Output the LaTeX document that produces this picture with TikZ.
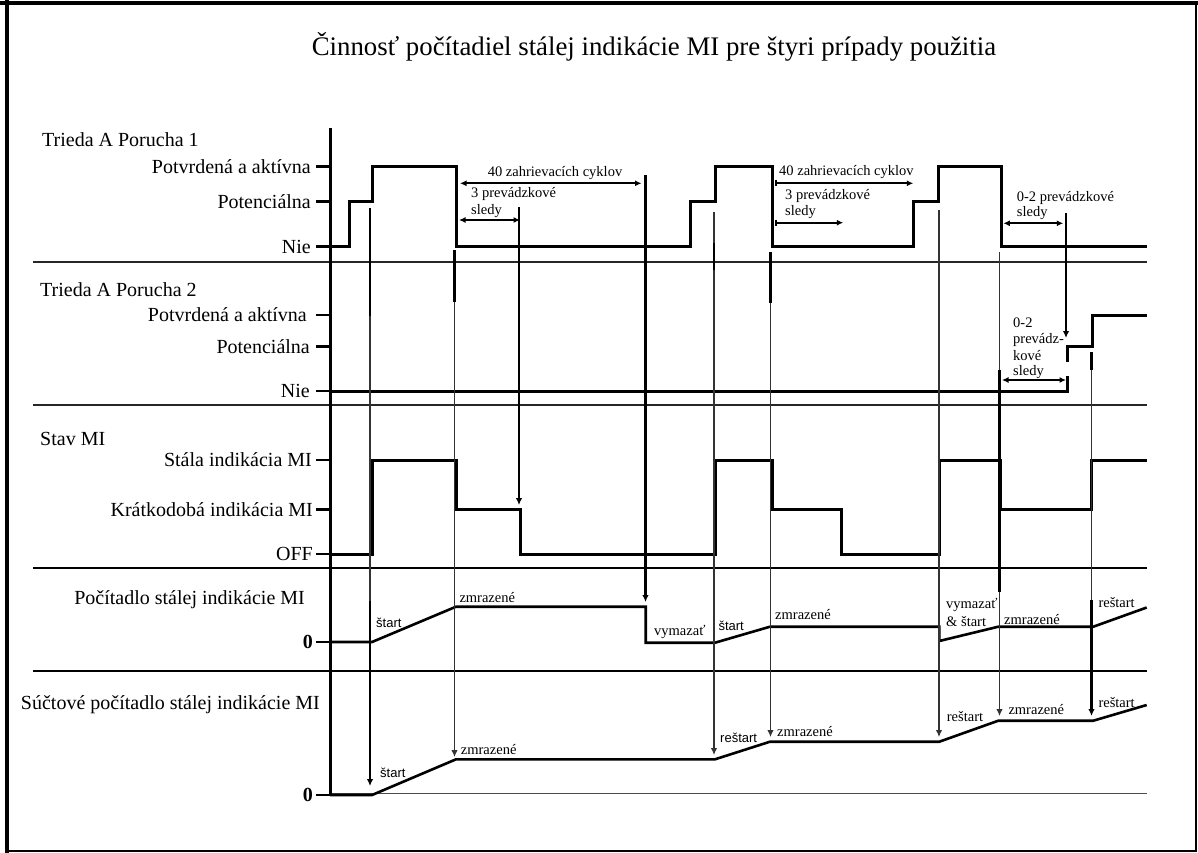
\documentclass[tikz,border=0pt]{standalone}
\usepackage{fontspec}
\setmainfont{Liberation Serif}
\newfontfamily\labsans{Liberation Sans}
\usetikzlibrary{arrows.meta}
\begin{document}
\begin{tikzpicture}[x=1pt,y=-1pt,
  sig/.style={line width=3pt, line join=miter},
  ev/.style={line width=1.2pt, draw=black!80},
  evk/.style={line width=2.5pt},
  septhin/.style={line width=1.6pt, draw=black!85},
  septhick/.style={line width=2.8pt},
  tickmark/.style={line width=2.6pt},
  lev/.style={anchor=east, font=\fontsize{20}{22}\selectfont, inner sep=0pt},
  grp/.style={anchor=west, font=\fontsize{20}{22}\selectfont, inner sep=0pt},
  sm/.style={anchor=west, font=\fontsize{14.5}{15}\selectfont, inner sep=0pt},
  smsans/.style={anchor=west, font=\labsans\fontsize{13}{15}\selectfont, inner sep=0pt},
  tip/.style={-{Latex[length=7pt,width=6.5pt]}},
  dim/.style={line width=2pt, {Latex[length=6.5pt,width=6pt]}-{Latex[length=6.5pt,width=6pt]}},
  dimr/.style={line width=2pt, {Bar[width=6pt]}-{Latex[length=6.5pt,width=6pt]}},
]
\useasboundingbox (0,0) rectangle (1198,853);
\fill[white] (0,0) rectangle (1198,853);
% border
\draw[line width=1.8pt] (7,3) rectangle (1196,851);
\draw[line width=4pt] (7,0) -- (7,853);
\draw[line width=4pt] (0,3) -- (1198,3);

% title
\node[font=\fontsize{26.8}{28}\selectfont, inner sep=0pt] (title) at (654,47) {Činnosť počítadiel stálej indikácie MI pre štyri prípady použitia};

% group labels
\node[grp] (g1) at (42,140) {Trieda A Porucha 1};
\node[grp] (g2) at (40,290) {Trieda A Porucha 2};
\node[grp] (g3) at (40,439) {Stav MI};
\node[lev] (g4) at (305,600) {Počítadlo stálej indikácie MI};
\node[lev] (g5) at (320,705) {Súčtové počítadlo stálej indikácie MI};

% level labels
\node[lev] (l1a) at (311,166.7) {Potvrdená a aktívna};
\node[lev] (l1b) at (311,201.7) {Potenciálna};
\node[lev] (l1c) at (311,246.7) {Nie};
\node[lev] (l2a) at (307,315) {Potvrdená a aktívna};
\node[lev] (l2b) at (310,346.7) {Potenciálna};
\node[lev] (l2c) at (310,391) {Nie};
\node[lev] (l3a) at (312,460) {Stála indikácia MI};
\node[lev] (l3b) at (313,509.3) {Krátkodobá indikácia MI};
\node[lev] (l3c) at (313,554) {OFF};
\node[lev, font=\fontsize{20}{22}\selectfont\bfseries] (l4) at (313,642) {0};
\node[lev, font=\fontsize{20}{22}\selectfont\bfseries] (l5) at (313,795) {0};

% ticks
\foreach \yy in {166.7,201.7,246.7,315,346.7,391,460,509.3,554,642,795}
  \draw[tickmark] (316,\yy) -- (330,\yy);

% separators
\draw[septhin] (33,262) -- (1146.7,262);
\draw[septhin] (33,405) -- (1146.7,405);
\draw[septhick] (33,568) -- (1146.7,568);
\draw[septhick] (33,671) -- (1146.7,671);
\draw[line width=1.6pt, draw=black!70] (330,793.5) -- (1146.7,793.5);

% axis
\draw[line width=3pt] (330,128) -- (330,796);

% signal Trieda A Porucha 1
\draw[sig] (330,246.7) -- (349,246.7) -- (349,201.7) -- (372.5,201.7) -- (372.5,166.7) -- (456.7,166.7) -- (456.7,246.7) -- (690,246.7) -- (690,201.7) -- (715.7,201.7) -- (715.7,166.7) -- (772.3,166.7) -- (772.3,246.7) -- (913.3,246.7) -- (913.3,201.7) -- (938.3,201.7) -- (938.3,166.7) -- (1001.7,166.7) -- (1001.7,246.7) -- (1146.7,246.7);

% signal Trieda A Porucha 2
\draw[sig] (330,391) -- (1067,391) -- (1067,376);
\draw[sig] (1067,362) -- (1067,346.7) -- (1092.3,346.7) -- (1092.3,315) -- (1146.7,315);

% signal Stav MI
\draw[sig] (330,554) -- (372,554) -- (372,460) -- (456.7,460) -- (456.7,509.3) -- (520,509.3) -- (520,554) -- (715,554) -- (715,460) -- (772.7,460) -- (772.7,509.3) -- (841.7,509.3) -- (841.7,554) -- (939.3,554) -- (939.3,460) -- (1000,460) -- (1000,509.3) -- (1091.7,509.3) -- (1091.7,460) -- (1146.7,460);

% signal Pocitadlo
\draw[sig, line width=2.6pt] (330,642) -- (372,642) -- (456,606.7) -- (645.7,606.7) -- (645.7,642.7) -- (715,642.7) -- (770,626.7) -- (939.3,626.7) -- (939.3,641) -- (998.3,626.7) -- (1093.3,626.7) -- (1146.7,607.5);

% signal Suctove
\draw[sig, line width=2.6pt] (330,795) -- (372,795) -- (456,759.3) -- (715,759.3) -- (770,741.7) -- (939.3,741.7) -- (998.3,720.7) -- (1093.3,720.7) -- (1146.7,705);

% event lines
\draw[evk] (370,208) -- (370,316);
\draw[ev] (370,316) -- (370,601);
\draw[evk,tip] (370,601) -- (370,786);

\draw[evk] (454.5,250) -- (454.5,302);
\draw[ev,tip] (454.5,302) -- (454.5,757);

\draw[evk,tip] (519,207) -- (519,505);

\draw[evk,tip] (645.5,175) -- (645.5,602);

\draw[ev] (714,212) -- (714,243);
\draw[evk] (714,243) -- (714,270);
\draw[ev,tip] (714,270) -- (714,755);

\draw[evk] (770.5,252) -- (770.5,303);
\draw[ev,tip] (770.5,303) -- (770.5,737);

\draw[ev,tip] (939,210) -- (939,737);

\draw[ev] (999.5,252) -- (999.5,370);
\draw[evk] (999.5,370) -- (999.5,592);
\draw[ev,tip] (999.5,592) -- (999.5,716);

\draw[evk,tip] (1066,213) -- (1066,338);

\draw[evk] (1091.5,352) -- (1091.5,370);
\draw[ev] (1091.5,370) -- (1091.5,600);
\draw[evk,tip] (1091.5,600) -- (1091.5,716);

% dimension arrows
\draw[dim] (460,183.3) -- (641.5,183.3);
\node[sm, anchor=center] (d1) at (555,173) {40 zahrievacích cyklov};
\draw[dim] (459,220) -- (520,220);
\node[sm] (d2a) at (471,194) {3 prevádzkové};
\node[sm] (d2b) at (471,210.7) {sledy};

\draw[dimr] (775,183.3) -- (913.3,183.3);
\node[sm] (d3) at (779,171.7) {40 zahrievacích cyklov};
\draw[dimr] (775,222.7) -- (843.3,222.7);
\node[sm] (d4a) at (785,196) {3 prevádzkové};
\node[sm] (d4b) at (785,212) {sledy};

\draw[dim] (1003.3,223.3) -- (1063.3,223.3);
\node[sm] (d5a) at (1016.7,198.3) {0-2 prevádzkové};
\node[sm] (d5b) at (1016.7,213.3) {sledy};

\draw[dim] (1002,380) -- (1066,380);
\node[sm] (d6a) at (1013,322.7) {0-2};
\node[sm] (d6b) at (1013,340) {prevádz-};
\node[sm] (d6c) at (1013,356) {kové};
\node[sm] (d6d) at (1013,372.3) {sledy};

% small labels Pocitadlo
\node[smsans] (p1) at (376,623.3) {štart};
\node[sm] (p2) at (459.3,597.3) {zmrazené};
\node[sm] (p3) at (654,631.7) {vymazať};
\node[smsans] (p4) at (718.3,626) {štart};
\node[sm] (p5) at (775,615) {zmrazené};
\node[sm] (p6a) at (946,605) {vymazať};
\node[sm] (p6b) at (946,621.7) {\& štart};
\node[sm] (p7) at (1004,619.3) {zmrazené};
\node[sm] (p8) at (1098.3,602.3) {reštart};

% small labels Suctove
\node[smsans] (s1) at (380,773.3) {štart};
\node[sm] (s2) at (460.7,749.3) {zmrazené};
\node[smsans] (s3) at (720,738.3) {reštart};
\node[sm] (s4) at (777,732) {zmrazené};
\node[sm] (s5) at (946.7,716.7) {reštart};
\node[sm] (s6) at (1008.3,710) {zmrazené};
\node[sm] (s7) at (1098.3,702.3) {reštart};
\end{tikzpicture}
\end{document}
